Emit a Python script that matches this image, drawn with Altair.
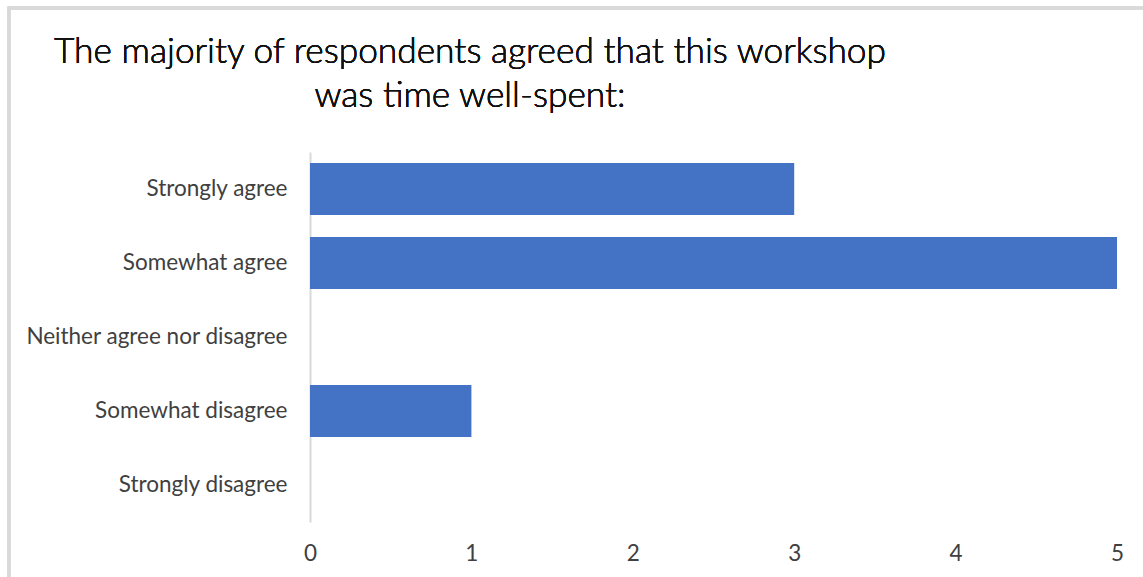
import altair as alt
import pandas as pd

categories = ["Strongly agree", "Somewhat agree", "Neither agree nor disagree",
              "Somewhat disagree", "Strongly disagree"]
counts = [3, 5, 0, 1, 0]
title_lines = ["The majority of respondents agreed that this workshop",
               "was time well-spent:"]

df = pd.DataFrame({"response": categories, "count": counts})

FONT = "Lato"

bars = alt.Chart(df).mark_bar(color="#4472C4").encode(
    y=alt.Y("response:N", sort=categories,
            scale=alt.Scale(paddingInner=0.3, paddingOuter=0.15),
            axis=alt.Axis(title=None, ticks=False, domainColor="#d9d9d9",
                          domainWidth=2, labelFontSize=22.5, labelFont=FONT,
                          labelColor="#404040", labelPadding=23, labelLimit=500,
                          grid=False)),
    x=alt.X("count:Q", scale=alt.Scale(domain=[0, 5], nice=False),
            axis=alt.Axis(title=None, ticks=False, domain=False, grid=False,
                          values=[0, 1, 2, 3, 4, 5], labelFontSize=22.5,
                          labelFont=FONT, labelColor="#404040", labelPadding=20,
                          labelFlush=False)),
)

frame = alt.Chart(df).mark_rect(fill=None, stroke="#d9d9d9", strokeWidth=3).encode(
    x=alt.value(-301), x2=alt.value(900), y=alt.value(-144), y2=alt.value(500)
)

title = alt.Chart(df).mark_text(
    text=title_lines, font=FONT, fontSize=35.3, fontWeight=300, lineHeight=44,
    align="center", baseline="alphabetic", color="#111111"
).encode(x=alt.value(160), y=alt.value(-89))

chart = alt.layer(frame, bars, title).properties(
    width=807, height=370,
    padding={"left": 310, "top": 152, "right": 26, "bottom": 55},
    autosize=alt.AutoSizeParams(type="none"),
    background="white",
).configure_view(strokeWidth=0, stroke="transparent")

chart.save("out.html", embed_options={"renderer": "svg", "actions": False})
